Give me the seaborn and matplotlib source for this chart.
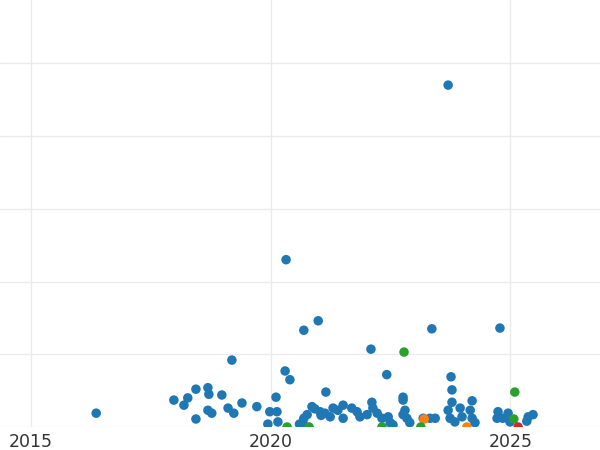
import pandas as pd
import seaborn as sns
import matplotlib.pyplot as plt

# values (x = decimal year, y in grid units)
blue_x = [2023.70, 2020.32, 2020.69, 2020.99, 2023.36, 2024.78, 2019.19, 2022.09, 2020.30, 2020.40,
          2022.42, 2023.76, 2021.15, 2016.36, 2017.98, 2018.19, 2018.27, 2018.44, 2018.44, 2018.69,
          2018.71, 2018.69, 2018.77, 2018.98, 2019.11, 2019.23, 2019.40, 2019.71, 2019.98, 2020.11,
          2020.13, 2019.94, 2020.15, 2020.67, 2020.69, 2020.76, 2020.86, 2020.92, 2021.03, 2021.13,
          2021.24, 2021.30, 2021.40, 2021.51, 2021.51, 2021.69, 2021.80, 2021.86, 2022.01, 2022.11,
          2022.13, 2022.22, 2022.32, 2022.45, 2022.49, 2022.76, 2022.76, 2022.80, 2022.76, 2022.84,
          2022.90, 2023.18, 2023.32, 2023.43, 2023.78, 2023.78, 2023.70, 2023.74, 2023.84, 2023.95,
          2023.99, 2024.20, 2024.16, 2024.20, 2024.26, 2024.74, 2024.72, 2024.84, 2024.95, 2024.99,
          2025.34, 2025.37, 2025.47, 2020.60, 2021.05, 2022.55]
blue_y = [4.70, 2.30, 1.33, 1.46, 1.35, 1.36, 0.92, 1.07, 0.77, 0.65,
          0.72, 0.69, 0.48, 0.19, 0.37, 0.30, 0.40, 0.52, 0.11, 0.54,
          0.45, 0.23, 0.19, 0.44, 0.26, 0.19, 0.33, 0.28, 0.21, 0.41,
          0.21, 0.04, 0.07, 0.06, 0.12, 0.17, 0.28, 0.25, 0.21, 0.19,
          0.14, 0.26, 0.23, 0.30, 0.12, 0.26, 0.21, 0.14, 0.17, 0.34,
          0.26, 0.19, 0.12, 0.14, 0.06, 0.41, 0.37, 0.23, 0.17, 0.12,
          0.06, 0.12, 0.12, 0.12, 0.51, 0.34, 0.23, 0.12, 0.07, 0.26,
          0.14, 0.36, 0.23, 0.12, 0.06, 0.21, 0.12, 0.12, 0.19, 0.07,
          0.08, 0.14, 0.17, 0.04, 0.16, 0.03]

orange_x = [2023.20, 2024.09]
orange_y = [0.11, 0.00]

green_x = [2022.78, 2025.09, 2020.34, 2020.80, 2022.32, 2023.13, 2025.07]
green_y = [1.03, 0.48, 0.00, 0.00, 0.00, 0.00, 0.11]

red_x = [2025.16]
red_y = [0.00]

groups = ["A", "B", "C", "D"]
palette = {"A": "#1f77b4", "B": "#ff7f0e", "C": "#2ca02c", "D": "#d62728"}

df = pd.concat([
    pd.DataFrame({"year": blue_x, "value": blue_y, "group": "A"}),
    pd.DataFrame({"year": orange_x, "value": orange_y, "group": "B"}),
    pd.DataFrame({"year": green_x, "value": green_y, "group": "C"}),
    pd.DataFrame({"year": red_x, "value": red_y, "group": "D"}),
], ignore_index=True)

sns.set_style("white")
fig = plt.figure(figsize=(6, 4.5), dpi=100)
ax = fig.add_axes([0, 23 / 450, 1, 427 / 450])

sns.scatterplot(data=df, x="year", y="value", hue="group", hue_order=groups,
                palette=palette, s=47, linewidth=0, alpha=1, legend=False, ax=ax, zorder=3)

ax.set_xlim(2014.354, 2026.867)
ax.set_ylim(0, 5.87)
ax.set_xticks([2015, 2020, 2025])
ax.set_xticklabels(["2015", "2020", "2025"])
ax.set_yticks([0, 1, 2, 3, 4, 5])
ax.set_yticklabels([])
ax.grid(True, color="#ebebeb", linewidth=1.0)
ax.set_axisbelow(True)
ax.tick_params(axis="both", length=0)
ax.tick_params(axis="x", pad=4, labelsize=12.5, labelcolor="#333333")
ax.set_xlabel("")
ax.set_ylabel("")
for s in ax.spines.values():
    s.set_visible(False)

fig.savefig("out.png", dpi=100)
